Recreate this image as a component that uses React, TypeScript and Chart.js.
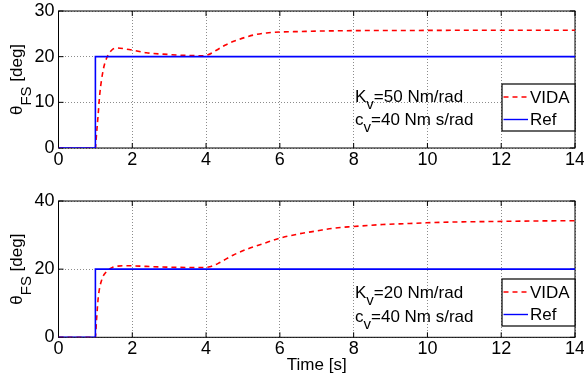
import React, { useEffect, useRef } from "react";
import { Chart, registerables } from "chart.js";
Chart.register(...registerables);

const xTicks = [0, 2, 4, 6, 8, 10, 12, 14];
const topYTicks = [0, 10, 20, 30];
const botYTicks = [0, 20, 40];

const refT = [0, 1, 1, 14];
const refV = [0, 0, 20, 20];

const topT = [0, 1.0, 1.03, 1.07, 1.12, 1.21, 1.3, 1.44, 1.6, 1.8, 2.02, 2.38, 2.83, 3.38, 3.92, 4.05, 4.28, 4.51, 4.73, 5.05, 5.32, 5.64, 6.0, 6.54, 7.0, 8.0, 10, 12, 14];
const topV = [0, 0, 3, 6.8, 11.9, 17, 19.6, 21.4, 21.9, 21.7, 21.4, 20.85, 20.56, 20.3, 20.2, 20.4, 21.4, 22.5, 23.3, 24.2, 24.8, 25.2, 25.4, 25.5, 25.6, 25.7, 25.75, 25.8, 25.8];

const botT = [0, 1.0, 1.03, 1.08, 1.17, 1.3, 1.48, 1.61, 1.88, 2.38, 2.92, 3.46, 3.92, 4.1, 4.33, 4.73, 5.19, 5.55, 6.0, 6.54, 6.99, 7.44, 7.98, 8.79, 9.52, 9.97, 10.6, 11.87, 13.95, 14];
const botV = [0, 0, 5, 11.9, 16.8, 19.3, 20.6, 20.9, 21, 20.8, 20.6, 20.5, 20.5, 20.7, 21.7, 24.1, 26.2, 27.5, 29.1, 30.4, 31.2, 32, 32.5, 33.1, 33.4, 33.6, 33.8, 34, 34.2, 34.2];

const legendLabels = ["VIDA", "Ref"];
const xTitle = "Time [s]";
const yTitleMain = "θ";
const yTitleSub = "FS";
const yTitleRest = " [deg]";
const topNote1 = ["K", "v", "=50 Nm/rad"];
const topNote2 = ["c", "v", "=40 Nm s/rad"];
const botNote1 = ["K", "v", "=20 Nm/rad"];
const botNote2 = ["c", "v", "=40 Nm s/rad"];

const FONT = "'Liberation Sans', Arial, Helvetica, sans-serif";
const RED = "#ff0000";
const BLUE = "#0000ff";

function pts(t: number[], v: number[]) {
  return t.map((x, i) => ({ x, y: v[i] }));
}

function drawSubText(ctx: CanvasRenderingContext2D, x: number, y: number, parts: string[], size: number, subSize: number, subOff: number) {
  ctx.textBaseline = "alphabetic";
  ctx.textAlign = "left";
  let cx = x;
  parts.forEach((p, i) => {
    const isSub = i === 1;
    ctx.font = `${isSub ? subSize : size}px ${FONT}`;
    ctx.fillText(p, cx, isSub ? y + subOff : y);
    cx += ctx.measureText(p).width;
  });
}

type Extra = {
  note1: string[];
  note2: string[];
  noteX: number;
  noteB1: number;
  noteB2: number;
  legTop: number;
  legBottom: number;
  yTicks: number[];
};

function makePlugin(ex: Extra) {
  return {
    id: "matlabDeco",
    beforeDatasetsDraw(chart: any) {
      const { ctx, chartArea: a, scales } = chart;
      ctx.save();
      ctx.strokeStyle = "#000";
      ctx.lineWidth = 1;
      ctx.setLineDash([]);
      ctx.strokeRect(a.left, a.top, a.right - a.left, a.bottom - a.top);
      const tl = 5;
      ctx.beginPath();
      xTicks.forEach((t) => {
        const px = scales.x.getPixelForValue(t);
        ctx.moveTo(px, a.bottom);
        ctx.lineTo(px, a.bottom - tl);
        ctx.moveTo(px, a.top);
        ctx.lineTo(px, a.top + tl);
      });
      ex.yTicks.forEach((v) => {
        const py = scales.y.getPixelForValue(v);
        ctx.moveTo(a.left, py);
        ctx.lineTo(a.left + tl, py);
        ctx.moveTo(a.right, py);
        ctx.lineTo(a.right - tl, py);
      });
      ctx.stroke();
      ctx.restore();
    },
    afterDraw(chart: any) {
      const { ctx, chartArea: a } = chart;
      ctx.save();
      ctx.fillStyle = "#000";
      const nx = a.right - ex.noteX;
      drawSubText(ctx, nx, a.bottom - ex.noteB1, ex.note1, 17, 15, 7);
      drawSubText(ctx, nx, a.bottom - ex.noteB2, ex.note2, 17, 15, 7);
      const lx = a.right - 73;
      const ly = a.bottom - ex.legTop;
      const lh = ex.legTop - ex.legBottom;
      ctx.fillStyle = "#fff";
      ctx.fillRect(lx, ly, 73, lh);
      ctx.strokeStyle = "#000";
      ctx.lineWidth = 1.2;
      ctx.strokeRect(lx, ly, 73, lh);
      const rows = [
        { c: RED, dash: [5, 4], y: ly + 13 },
        { c: BLUE, dash: [], y: ly + 35.5 },
      ];
      rows.forEach((r, i) => {
        ctx.beginPath();
        ctx.strokeStyle = r.c;
        ctx.lineWidth = 1.4;
        ctx.setLineDash(r.dash);
        ctx.moveTo(lx + 1.5, r.y);
        ctx.lineTo(lx + 26, r.y);
        ctx.stroke();
        ctx.setLineDash([]);
        ctx.fillStyle = "#000";
        ctx.font = `17px ${FONT}`;
        ctx.textAlign = "left";
        ctx.textBaseline = "middle";
        ctx.fillText(legendLabels[i], lx + 28, r.y + 1);
      });
      const cy = (a.top + a.bottom) / 2;
      ctx.translate(22, cy);
      ctx.rotate(-Math.PI / 2);
      ctx.fillStyle = "#000";
      ctx.font = `17px ${FONT}`;
      const w1 = ctx.measureText(yTitleMain).width;
      const w3 = ctx.measureText(yTitleRest).width;
      ctx.font = `15px ${FONT}`;
      const w2 = ctx.measureText(yTitleSub).width;
      const total = w1 + w2 + w3;
      drawSubText(ctx, -total / 2, 0, [yTitleMain, yTitleSub, yTitleRest], 17, 15, 9);
      ctx.restore();
    },
  };
}

function makeConfig(vT: number[], vV: number[], yMax: number, yTicks: number[], ex: Extra, showTitle: boolean, xHeight: number, padTop: number) {
  return {
    type: "line" as const,
    data: {
      datasets: [
        {
          label: legendLabels[1],
          data: pts(refT, refV),
          borderColor: BLUE,
          borderWidth: 1.6,
          pointRadius: 0,
          tension: 0,
          fill: false,
        },
        {
          label: legendLabels[0],
          data: pts(vT, vV),
          borderColor: RED,
          borderWidth: 1.6,
          borderDash: [5, 4],
          pointRadius: 0,
          cubicInterpolationMode: "monotone" as const,
          fill: false,
        },
      ],
    },
    options: {
      responsive: false,
      animation: false as const,
      devicePixelRatio: 1,
      layout: { padding: { top: padTop, right: 9, left: 0, bottom: 0 } },
      plugins: { legend: { display: false }, tooltip: { enabled: false } },
      scales: {
        x: {
          type: "linear" as const,
          min: 0,
          max: 14,
          afterBuildTicks: (s: any) => {
            s.ticks = xTicks.map((v) => ({ value: v }));
          },
          afterFit: (s: any) => {
            s.height = xHeight;
            s.paddingLeft = 0;
            s.paddingRight = 0;
          },
          ticks: {
            color: "#000",
            font: { family: FONT, size: 18 },
            padding: 1,
            maxRotation: 0,
            autoSkip: false,
          },
          grid: { color: "#8c8c8c", lineWidth: 1, drawTicks: false },
          border: { display: false, dash: [1, 2] },
          title: {
            display: showTitle,
            text: xTitle,
            color: "#000",
            font: { family: FONT, size: 17 },
            padding: { top: 0, bottom: 1 },
          },
        },
        y: {
          type: "linear" as const,
          min: 0,
          max: yMax,
          afterBuildTicks: (s: any) => {
            s.ticks = yTicks.map((v) => ({ value: v }));
          },
          afterFit: (s: any) => {
            s.width = 58.5;
            s.paddingTop = 0;
            s.paddingBottom = 0;
          },
          ticks: {
            color: "#000",
            font: { family: FONT, size: 18 },
            padding: 4,
            autoSkip: false,
          },
          grid: { color: "#8c8c8c", lineWidth: 1, drawTicks: false },
          border: { display: false, dash: [1, 2] },
        },
      },
    },
    plugins: [makePlugin(ex)],
  };
}

function Plot(props: { cfg: any; w: number; h: number; top: number }) {
  const ref = useRef<HTMLCanvasElement | null>(null);
  useEffect(() => {
    if (!ref.current) return;
    const c = new Chart(ref.current, props.cfg);
    return () => c.destroy();
  }, []);
  return (
    <canvas
      ref={ref}
      width={props.w}
      height={props.h}
      style={{ position: "absolute", left: 0, top: props.top, width: props.w, height: props.h }}
    />
  );
}

export default function App() {
  const topCfg = makeConfig(topT, topV, 30, topYTicks, {
    note1: topNote1,
    note2: topNote2,
    noteX: 220,
    noteB1: 46.3,
    noteB2: 23,
    legTop: 64,
    legBottom: 17,
    yTicks: topYTicks,
  }, false, 36, 11);
  const botCfg = makeConfig(botT, botV, 40, botYTicks, {
    note1: botNote1,
    note2: botNote2,
    noteX: 220,
    noteB1: 39,
    noteB2: 15.6,
    legTop: 58.3,
    legBottom: 11.3,
    yTicks: botYTicks,
  }, true, 39.7, 17);
  return (
    <div style={{ position: "fixed", left: 0, top: 0, width: 584, height: 377, background: "#fff", overflow: "hidden" }}>
      <Plot cfg={topCfg} w={584} h={184} top={0} />
      <Plot cfg={botCfg} w={584} h={193} top={184} />
    </div>
  );
}
